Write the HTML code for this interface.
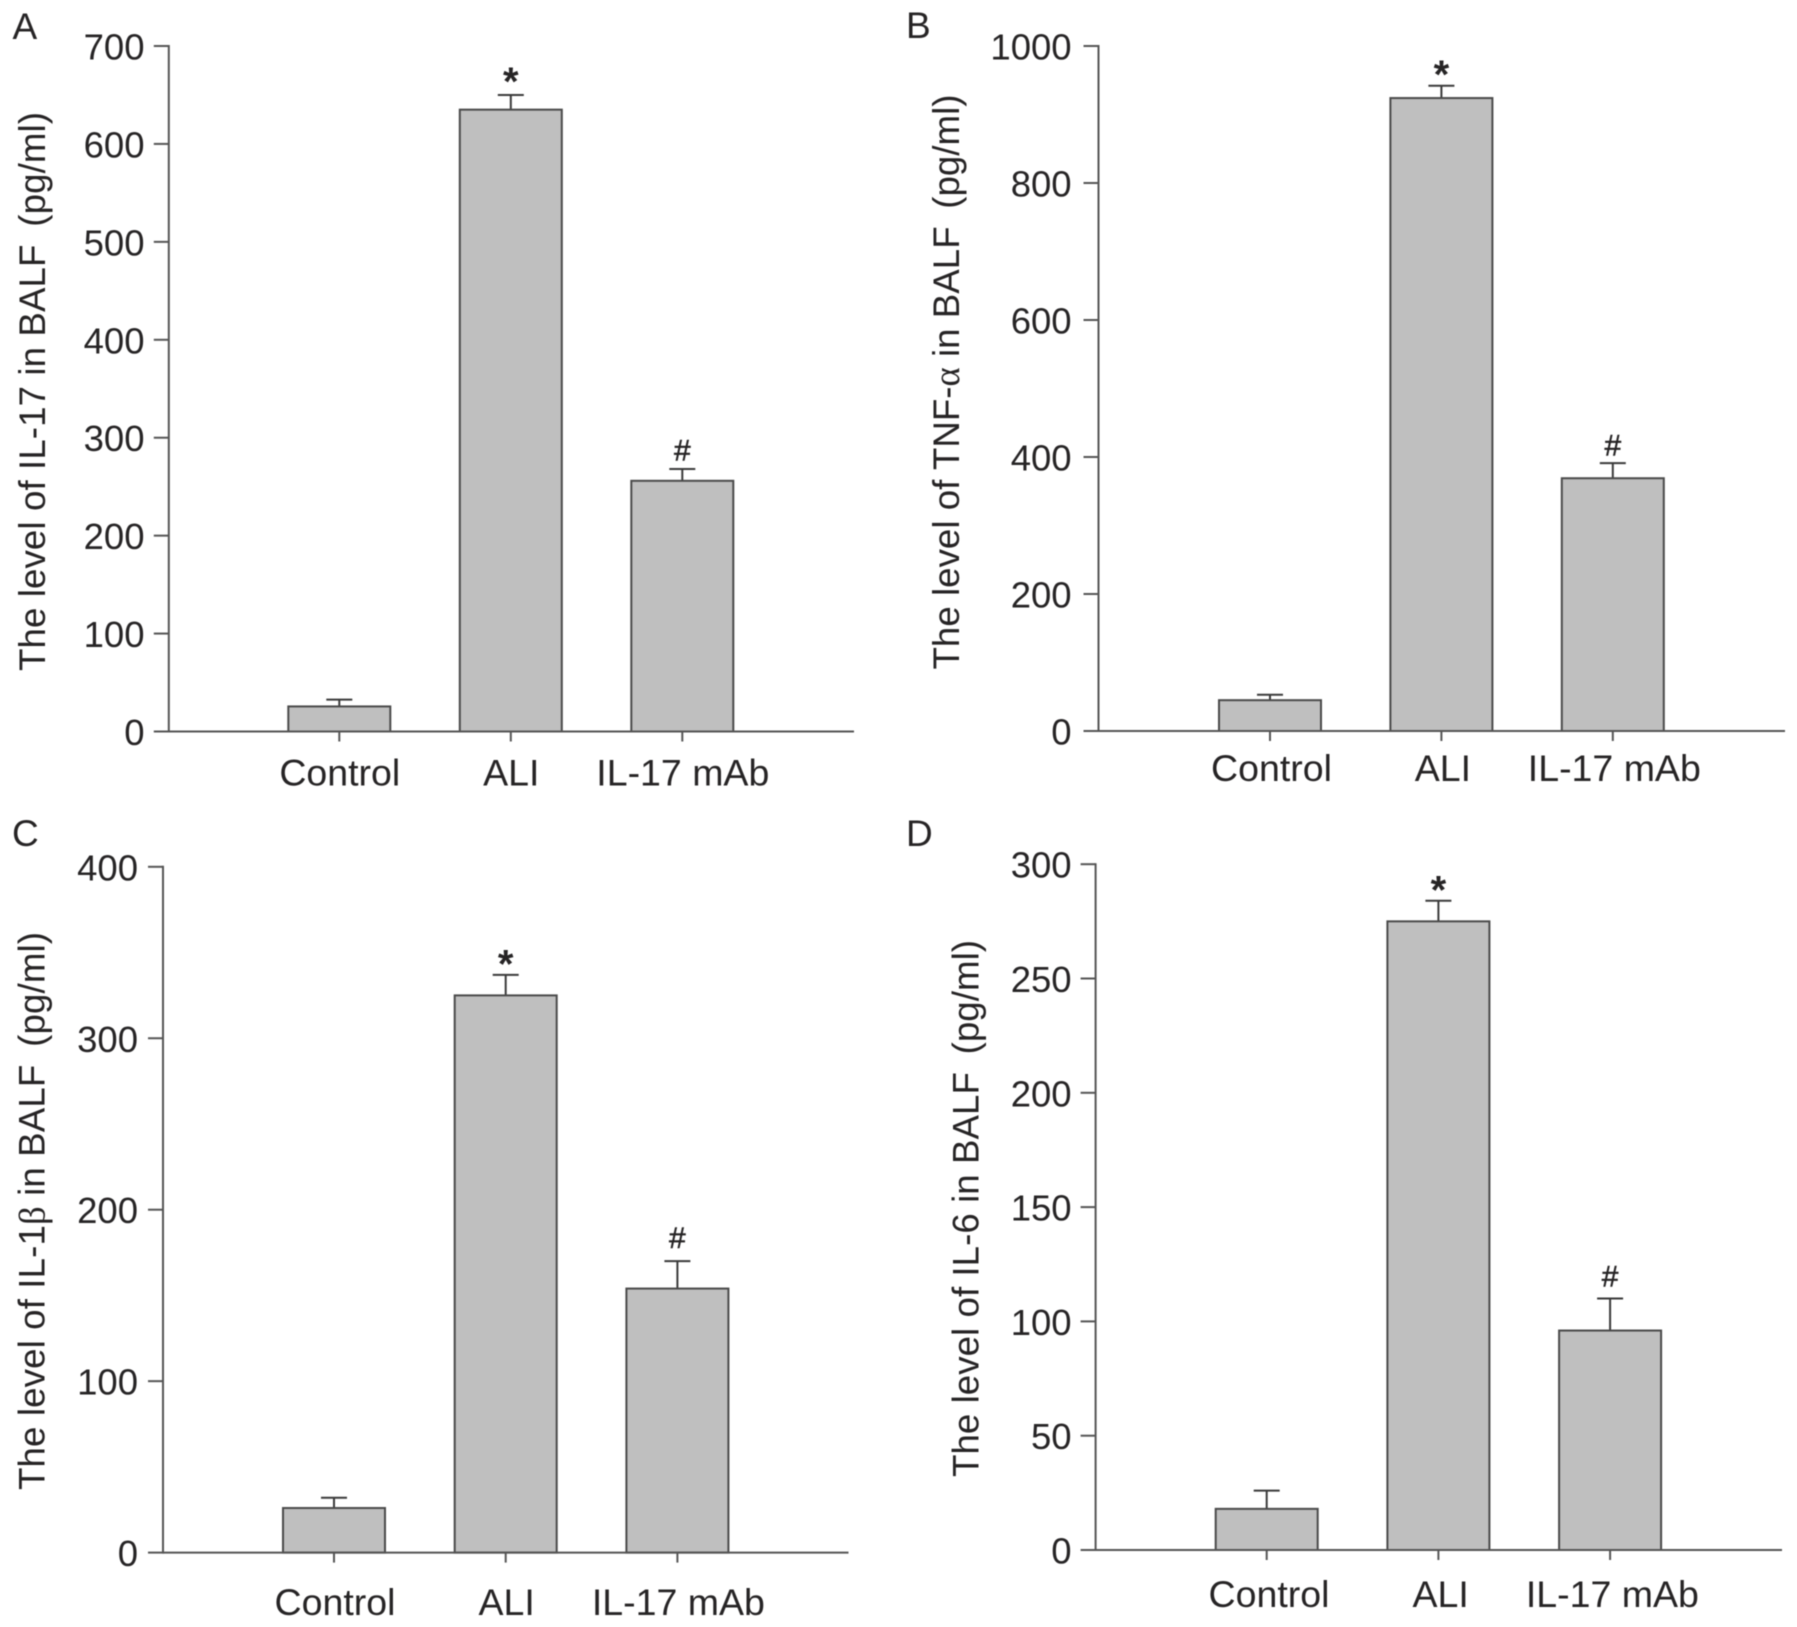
<!DOCTYPE html>
<html lang="en">
<head>
<meta charset="utf-8">
<title>Cytokine levels in BALF</title>
<style>
html,body{margin:0;padding:0;background:#fff;width:1797px;height:1627px;overflow:hidden}
svg{display:block;filter:blur(.45px)}
text{font-family:"Liberation Sans",sans-serif;fill:#262425}
</style>
</head>
<body>
<svg id="figure" xmlns="http://www.w3.org/2000/svg" width="1797" height="1627" viewBox="0 0 1797 1627"></svg>
<script>
const categories = ["Control", "ALI", "IL-17 mAb"];
const markers = ["", "*", "#"];

const il17Values = [25.6, 635, 256];
const il17Errors = [7, 15, 12];
const il17Ticks = [0, 100, 200, 300, 400, 500, 600, 700];

const tnfValues = [45, 924, 369];
const tnfErrors = [8, 18, 22];
const tnfTicks = [0, 200, 400, 600, 800, 1000];

const il1bValues = [26, 325, 154];
const il1bErrors = [6, 12, 16];
const il1bTicks = [0, 100, 200, 300, 400];

const il6Values = [18, 275, 96];
const il6Errors = [8, 9, 14];
const il6Ticks = [0, 50, 100, 150, 200, 250, 300];

const panels = [
  {id:"a", letter:"A", lx:12.5, ly:39, title:"The level of IL-17 in BALF", greek:"", titleEnd:"", values:il17Values, errors:il17Errors, ticks:il17Ticks,
   axisX:168.8, axisEnd:854, y0:731.5, yTop:46, cx0:339.3, step:171.5, labelX:144.5, catY:785.6, catDx:0.5, titleX:45, titleY:671, titleLen:559, starDy:0, hashDy:-8.5},
  {id:"b", letter:"B", lx:906, ly:38, title:"The level of TNF-", greek:"\u03b1", titleEnd:" in BALF", values:tnfValues, errors:tnfErrors, ticks:tnfTicks,
   axisX:1098.5, axisEnd:1785, y0:731, yTop:46, cx0:1270, step:171.4, labelX:1071.6, catY:781, catDx:1.5, titleX:959.2, titleY:669.5, titleLen:575, starDy:2.5, hashDy:-7.5},
  {id:"c", letter:"C", lx:12, ly:846, title:"The level of IL-1", greek:"\u03b2", titleEnd:" in BALF", values:il1bValues, errors:il1bErrors, ticks:il1bTicks,
   axisX:163, axisEnd:848.5, y0:1552.6, yTop:866.8, cx0:334, step:171.7, labelX:138, catY:1615, catDx:1, titleX:44.5, titleY:1490, titleLen:558, starDy:2.5, hashDy:-13},
  {id:"d", letter:"D", lx:906, ly:846, title:"The level of IL-6", greek:"", titleEnd:" in BALF", values:il6Values, errors:il6Errors, ticks:il6Ticks,
   axisX:1095.6, axisEnd:1782, y0:1550, yTop:864.2, cx0:1266.7, step:171.7, labelX:1071.6, catY:1607, catDx:2.3, titleX:978.5, titleY:1477, titleLen:537, starDy:2.5, hashDy:-12}
];

const NS = "http://www.w3.org/2000/svg";
const BAR_W = 102, CAP = 13, XTICK = 10, YTICK = 15;
const LINE = "#555555", BAR_LINE = "#4a4a4a", BAR_FILL = "#bfbfbf", ERR = "#3a3a3a";
const root = document.getElementById("figure");

function make(parent, tag, props, content) {
  const node = document.createElementNS(NS, tag);
  for (const k in props) node.setAttribute(k, props[k]);
  if (content !== undefined) node.textContent = content;
  parent.appendChild(node);
  return node;
}
function xScale(p, i) { return p.cx0 + i * p.step; }
function yScale(p, v) {
  const top = p.ticks[p.ticks.length - 1];
  return p.y0 - (v / top) * (p.y0 - p.yTop);
}

panels.forEach(function (p) {
  const g = make(root, "g", {});
  
  

  const letter = make(g, "text", {x:p.lx, y:p.ly, "font-size":37}, p.letter);
  
  

  const title = make(g, "text", {
    transform:"translate(" + p.titleX + "," + p.titleY + ") rotate(-90)",
    "font-size":36.7, textLength:p.titleLen, lengthAdjust:"spacing"
  });
  
  
  make(title, "tspan", {}, p.title);
  if (p.greek) make(title, "tspan", {style:'font-family:"Liberation Serif",serif'}, p.greek);
  make(title, "tspan", {}, p.titleEnd + "\u00a0\u2009(pg/ml)");

  // bars and error bars
  p.values.forEach(function (v, i) {
    const cx = xScale(p, i);
    const top = yScale(p, v);
    const errTop = yScale(p, v + p.errors[i]);

    const stem = make(g, "line", {x1:cx, x2:cx, y1:top, y2:errTop, stroke:ERR, "stroke-width":2});
    
    

    const cap = make(g, "line", {x1:cx - CAP, x2:cx + CAP, y1:errTop, y2:errTop, stroke:ERR, "stroke-width":2});
    
    

    const bar = make(g, "rect", {x:cx - BAR_W / 2, y:top, width:BAR_W, height:p.y0 - top, fill:BAR_FILL, stroke:BAR_LINE, "stroke-width":2});
    
    

    if (markers[i] === "*") {
      const star = make(g, "text", {x:cx, y:errTop + p.starDy, "font-size":40, "font-weight":"bold", "text-anchor":"middle"}, markers[i]);
      
      
    } else if (markers[i] === "#") {
      const hash = make(g, "text", {x:cx, y:errTop + p.hashDy, "font-size":30, "text-anchor":"middle", stroke:"#262425", "stroke-width":0.5}, markers[i]);
      
      
    }

    const tick = make(g, "line", {x1:cx, x2:cx, y1:p.y0, y2:p.y0 + XTICK, stroke:LINE, "stroke-width":2});
    
    

    const cat = make(g, "text", {x:cx + p.catDx, y:p.catY, "font-size":37.5, "text-anchor":"middle"}, categories[i]);
    
    
  });

  // axes
  const yAxis = make(g, "line", {x1:p.axisX, x2:p.axisX, y1:p.yTop - 1, y2:p.y0 + 1, stroke:LINE, "stroke-width":2});
  
  

  const xAxis = make(g, "line", {x1:p.axisX, x2:p.axisEnd, y1:p.y0, y2:p.y0, stroke:LINE, "stroke-width":2});
  
  

  p.ticks.forEach(function (t) {
    const y = yScale(p, t);
    const tick = make(g, "line", {x1:p.axisX - YTICK, x2:p.axisX, y1:y, y2:y, stroke:LINE, "stroke-width":2});
    
    

    const label = make(g, "text", {x:p.labelX, y:y + 13.5, "font-size":36.5, "text-anchor":"end"}, String(t));
    
    
  });
});
</script>
</body>
</html>
